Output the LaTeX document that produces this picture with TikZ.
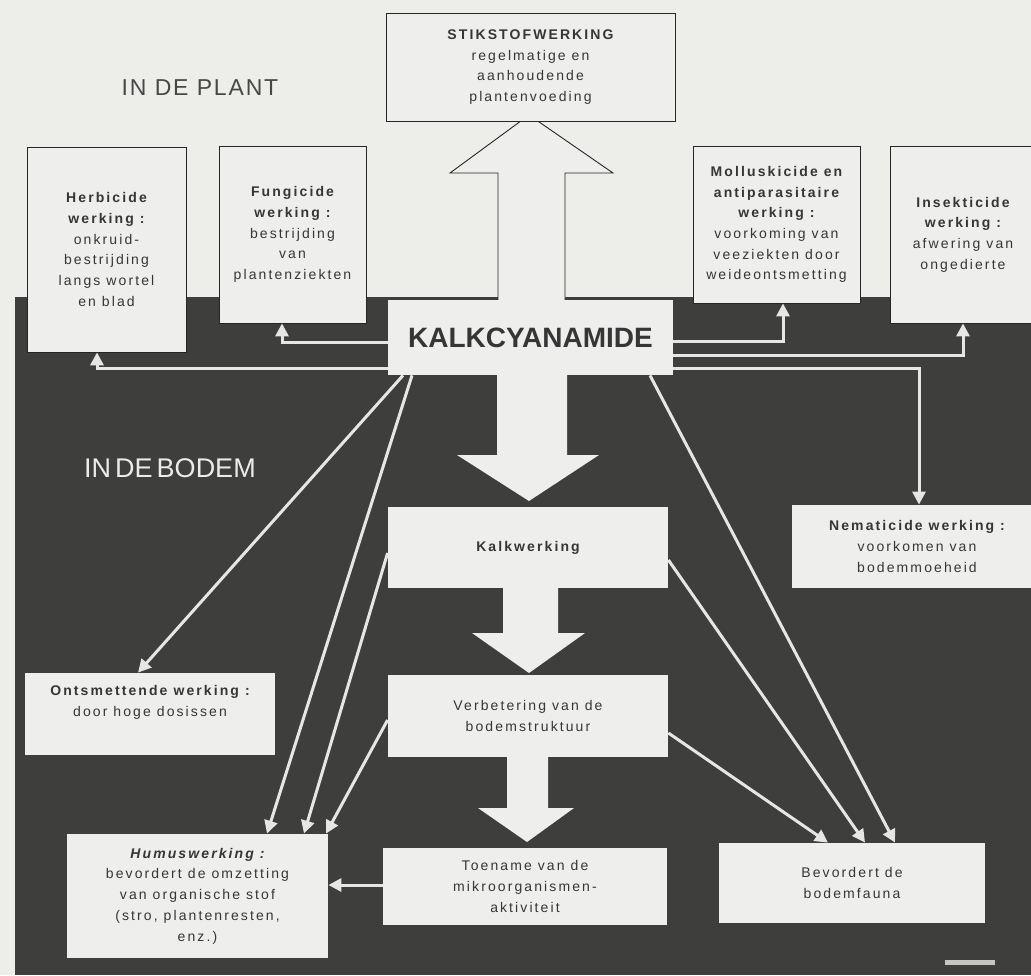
\documentclass[tikz,border=0pt]{standalone}
\usepackage{fontspec}
\setmainfont{Liberation Sans}
\newfontfamily\lsfont[LetterSpace=15]{Liberation Sans}
\newfontfamily\titlefont[LetterSpace=8]{Liberation Sans}
\usetikzlibrary{arrows.meta}
\definecolor{bglight}{HTML}{EDEDEA}
\definecolor{bgdark}{HTML}{3E3E3C}
\definecolor{boxfill}{HTML}{EEEEEC}
\definecolor{textcol}{HTML}{363636}
\definecolor{connc}{HTML}{E6E6E4}
\begin{document}
\begin{tikzpicture}[x=1pt,y=-1pt,
  box/.style={rectangle, fill=boxfill, draw=black!85, line width=0.8pt, align=center,
    inner sep=0pt, text=textcol, font=\lsfont\fontsize{14}{20.7}\selectfont},
  dbox/.style={box, draw=none},
  conn/.style={draw=connc, line width=3pt, -{Triangle[width=13pt,length=13pt]}},
  blockarrow/.style={fill=boxfill}
]
\useasboundingbox (0,0) rectangle (1031,975);
% background
\fill[bglight] (0,0) rectangle (1031,975);
\fill[bgdark] (15,297) rectangle (1031,975);
\fill[white, opacity=0.7] (945,960) rectangle (995,965);

% titles
\node[text=black!72, font=\titlefont\fontsize{23}{26}\selectfont] (plant) at (200,88) {IN DE PLANT};
\node[text=black!8, font=\fontsize{27}{30}\selectfont] (bodem) at (170,468) {IN\hspace{4pt}DE\hspace{4pt}BODEM};

% block arrow up
\filldraw[fill=boxfill, draw=black!85, line width=0.9pt]
  (498,300) -- (498,173) -- (450,173) -- (529,115) -- (613,173) -- (565,173) -- (565,300);
% block arrows down
\fill[blockarrow] (497,374) -- (567,374) -- (567,455) -- (599,455) -- (529,501) -- (457,455) -- (497,455) -- cycle;
\fill[blockarrow] (503,587) -- (558,587) -- (558,633) -- (585,633) -- (529,673) -- (472,633) -- (503,633) -- cycle;
\fill[blockarrow] (507,756) -- (548,756) -- (548,808) -- (574,808) -- (527,842) -- (478,808) -- (507,808) -- cycle;

% boxes
\node[box, minimum width=289pt, minimum height=108pt] (stik) at (530.5,67)
  {{\bfseries STIKSTOFWERKING}\\regelmatige en\\aanhoudende\\plantenvoeding};
\node[box, minimum width=159pt, minimum height=205pt] (herb) at (106.5,249.5)
  {{\bfseries Herbicide}\\{\bfseries werking :}\\onkruid-\\bestrijding\\langs wortel\\en blad};
\node[box, minimum width=147pt, minimum height=177pt] (fung) at (292.5,234.5)
  {{\bfseries Fungicide}\\{\bfseries werking :}\\bestrijding\\van\\plantenziekten};
\node[box, minimum width=167pt, minimum height=157pt] (moll) at (776.5,224.5)
  {{\bfseries Molluskicide en}\\{\bfseries antiparasitaire}\\{\bfseries werking :}\\voorkoming van\\veeziekten door\\weideontsmetting};
\node[box, minimum width=146pt, minimum height=177pt] (insk) at (963,234.5)
  {{\bfseries Insekticide}\\{\bfseries werking :}\\afwering van\\ongedierte};
\node[dbox, minimum width=285pt, minimum height=75pt, font=\bfseries\fontsize{28}{30}\selectfont] (kalk) at (530.5,337.5)
  {KALKCYANAMIDE};
\node[dbox, minimum width=280pt, minimum height=81pt] (kalkw) at (528,547.5)
  {{\bfseries Kalkwerking}};
\node[dbox, minimum width=280pt, minimum height=82pt] (verb) at (528,716)
  {Verbetering van de\\bodemstruktuur};
\node[dbox, minimum width=284pt, minimum height=77pt] (toen) at (525,886.5)
  {Toename van de\\mikroorganismen-\\aktiviteit};
\node[dbox, minimum width=261pt, minimum height=124pt] (humus) at (197.5,896)
  {{\bfseries\itshape Humuswerking :}\\bevordert de omzetting\\van organische stof\\(stro, plantenresten,\\enz.)};
\node[dbox, minimum width=250pt, minimum height=82pt] (ontsm) at (150,714)
  {{\bfseries Ontsmettende werking :}\\door hoge dosissen\\[6pt]};
\node[dbox, minimum width=266pt, minimum height=80pt] (bevo) at (852,883)
  {Bevordert de\\bodemfauna};
\node[dbox, minimum width=250pt, minimum height=83pt] (nema) at (917,546.5)
  {{\bfseries Nematicide werking :}\\voorkomen van\\bodemmoeheid};

% connectors in the plant
\draw[conn] (kalk.west |- 0,342) -| (fung.south -| 282,0);
\draw[conn] (kalk.west |- 0,368) -| (herb.south -| 97,0);
\draw[conn] (kalk.east |- 0,341) -| (moll.south -| 783,0);
\draw[conn] (kalk.east |- 0,355) -| (insk.south -| 963,0);
\draw[conn] (kalk.east |- 0,368) -| (nema.north -| 919,0);
% connectors in the soil
\draw[conn] (kalk.south -| 403,0) -- (ontsm.north -| 138,0);
\draw[conn] (kalk.south -| 412,0) -- (humus.north -| 267,0);
\draw[conn] (kalkw.west |- 0,553) -- (humus.north -| 304,0);
\draw[conn] (verb.west |- 0,720) -- (humus.north -| 326,0);
\draw[conn] (kalk.south -| 650,0) -- (bevo.north -| 895,0);
\draw[conn] (kalkw.east |- 0,560) -- (bevo.north -| 865,0);
\draw[conn] (verb.east |- 0,733) -- (bevo.north -| 828,0);
\draw[conn] (toen.west |- 0,885) -- (humus.east |- 0,885);
\end{tikzpicture}
\end{document}
